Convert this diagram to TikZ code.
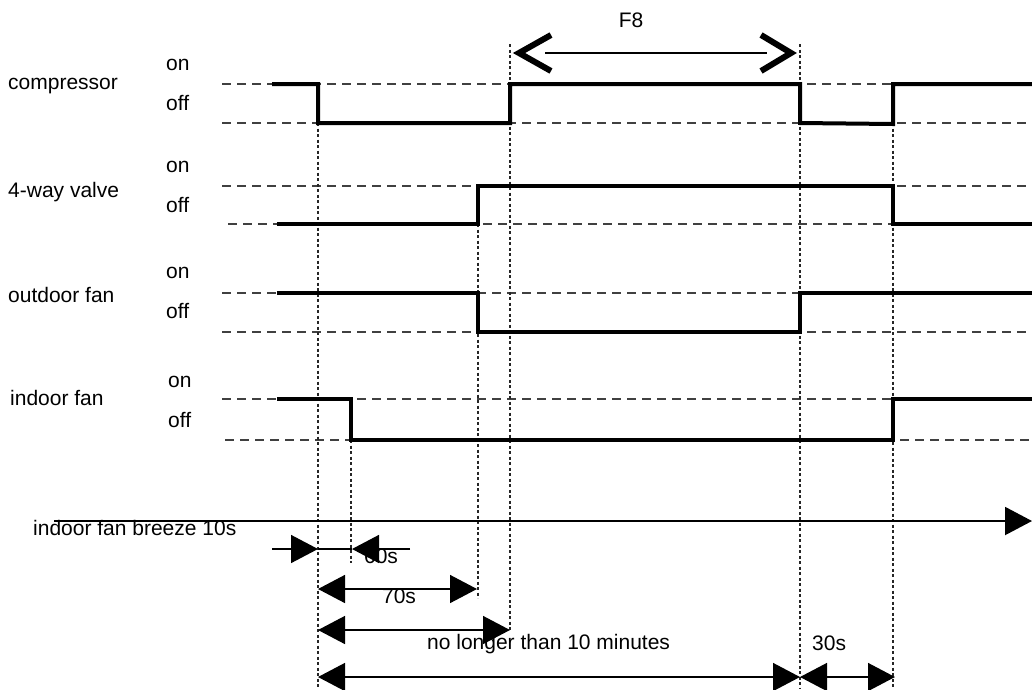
\documentclass[tikz,border=0pt]{standalone}
\usepackage{fontspec}
\setmainfont{Liberation Sans}
\usetikzlibrary{arrows.meta}
\begin{document}
\begin{tikzpicture}[x=1pt,y=-1pt,
 lbl/.style={anchor=base west, inner sep=0pt, font=\fontsize{21}{25}\selectfont},
 lblc/.style={anchor=base, inner sep=0pt, font=\fontsize{21}{25}\selectfont},
 refline/.style={draw=black!75, line width=1.3pt, dash pattern=on 9pt off 6pt},
 guide/.style={draw=black!85, line width=1.1pt, dash pattern=on 3pt off 2.5pt},
 sig/.style={line width=4pt, line join=miter, line cap=butt},
 dim/.style={line width=1.5pt},
 chev/.style={line width=6pt, line join=miter},
 >={Triangle[length=27pt,width=28pt]}
]
\useasboundingbox (0,0) rectangle (1032,689);

% row labels
\node[lbl] (compL) at (8,89) {compressor};
\node[lbl] (compOn) at (166,70.5) {on};
\node[lbl] (compOff) at (166,110.5) {off};
\node[lbl] (valveL) at (8,197) {4-way valve};
\node[lbl] (valveOn) at (166,172) {on};
\node[lbl] (valveOff) at (166,212) {off};
\node[lbl] (outL) at (8,302) {outdoor fan};
\node[lbl] (outOn) at (166,278) {on};
\node[lbl] (outOff) at (166,318) {off};
\node[lbl] (inL) at (10,405) {indoor fan};
\node[lbl] (inOn) at (168,387) {on};
\node[lbl] (inOff) at (168,427) {off};

% reference levels
\draw[refline] (222,84) -- (1032,84);
\draw[refline] (222,123) -- (1032,123);
\draw[refline] (222,186) -- (1032,186);
\draw[refline] (228,224) -- (1032,224);
\draw[refline] (222,293) -- (1032,293);
\draw[refline] (222,332) -- (1032,332);
\draw[refline] (222,399) -- (1032,399);
\draw[refline] (225,440) -- (1032,440);

% vertical guides
\draw[guide] (318,123) -- (318,689);
\draw[guide] (351,440) -- (351,563);
\draw[guide] (478,224) -- (478,598);
\draw[guide] (510,44) -- (510,630);
\draw[guide] (800,44) -- (800,689);
\draw[guide] (893,123) -- (893,689);

% signals
\draw[sig] (272,84) -- (318,84) -- (318,123) -- (510,123) -- (510,84) -- (800,84) -- (800,123) -- (893,124) -- (893,84) -- (1032,84);
\draw[sig] (277,224) -- (478,224) -- (478,186) -- (893,186) -- (893,224) -- (1032,224);
\draw[sig] (277,293) -- (478,293) -- (478,332) -- (800,332) -- (800,293) -- (1032,293);
\draw[sig] (277,399) -- (351,399) -- (351,440) -- (893,440) -- (893,399) -- (1032,399);

% texts of the dimensions
\node[lbl] (breeze) at (33,535.5) {indoor fan breeze 10s};
\node[lblc] (t60) at (381,563) {60s};
\node[lblc] (t70) at (399,603.5) {70s};
\node[lbl] (t10) at (427,649) {no longer than 10 minutes};
\node[lbl] (t30) at (812,650) {30s};
\node[lblc] (tf8) at (631,27) {F8};

% F8 arrow
\coordinate (f8l) at (512,53);
\coordinate (f8r) at (798,53);
\draw[dim, shorten <=33pt, shorten >=31pt] (f8l) -- (f8r);
\draw[chev] ([xshift=39pt,yshift=18pt]f8l) -- ([xshift=7pt]f8l) -- ([xshift=39pt,yshift=-18pt]f8l);
\draw[chev] ([xshift=-37pt,yshift=18pt]f8r) -- ([xshift=-7pt]f8r) -- ([xshift=-37pt,yshift=-18pt]f8r);

% dimension arrows
\coordinate (bz0) at (54,521);
\coordinate (bz1) at (1032,521);
\draw[line width=2pt,->] (bz0) -- (bz1);

\coordinate (r1a) at (272,549);
\coordinate (r1b) at (318,549);
\coordinate (r1c) at (352,549);
\coordinate (r1d) at (410,549);
\draw[dim,->] (r1a) -- (r1b);
\draw[dim] (r1b) -- (r1c);
\draw[dim,->] (r1d) -- (r1c);

\coordinate (r2a) at (318,589);
\coordinate (r2b) at (477,589);
\draw[dim,<->] (r2a) -- (r2b);

\coordinate (r3a) at (318,630);
\coordinate (r3b) at (510,630);
\draw[dim,<->] (r3a) -- (r3b);

\coordinate (r4a) at (318,677);
\coordinate (r4b) at (800,677);
\coordinate (r4c) at (895,677);
\draw[dim,<->] (r4a) -- (r4b);
\draw[dim,<->] (r4b) -- (r4c);
\end{tikzpicture}
\end{document}
